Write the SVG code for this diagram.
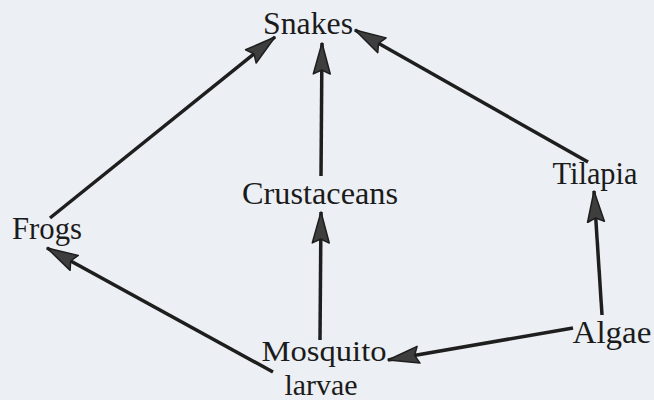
<svg xmlns="http://www.w3.org/2000/svg" width="654" height="400" viewBox="0 0 654 400">
<defs>
<style>
.lbl{font-family:"Liberation Serif","Times New Roman",serif;font-size:31px;fill:#1b1b1b;text-anchor:middle}
.sm{font-size:30px}
.edge{stroke:#1e1e1e;stroke-width:3.5;fill:none;marker-end:url(#ah)}
</style>
<marker id="ah" markerUnits="userSpaceOnUse" markerWidth="34" markerHeight="22" viewBox="0 0 34 22" refX="32" refY="11" orient="auto">
<path d="M1,2.5 L32,11 L1,19.5 L5,11 Z" fill="#3e3e3e" stroke="#1e1e1e" stroke-width="1.5" stroke-linejoin="round"/>
</marker>
</defs>
<rect width="654" height="400" fill="#eceff3"/>
<g id="connectors">
<line class="edge" x1="50" y1="218" x2="275" y2="37"/>
<line class="edge" x1="321" y1="176" x2="322" y2="43"/>
<line class="edge" x1="588" y1="162" x2="355" y2="30"/>
<line class="edge" x1="602" y1="315" x2="594" y2="191"/>
<line class="edge" x1="573" y1="328" x2="388" y2="360"/>
<line class="edge" x1="320" y1="340" x2="321" y2="212"/>
<line class="edge" x1="273" y1="372" x2="47" y2="248"/>
</g>
<g id="snakes"><text class="lbl" x="308" y="34" textLength="90" lengthAdjust="spacingAndGlyphs">Snakes</text></g>
<g id="crustaceans"><text class="lbl" x="320" y="204" textLength="156" lengthAdjust="spacingAndGlyphs">Crustaceans</text></g>
<g id="frogs"><text class="lbl" x="47" y="239" textLength="70" lengthAdjust="spacingAndGlyphs">Frogs</text></g>
<g id="tilapia"><text class="lbl" x="595" y="184" textLength="85" lengthAdjust="spacingAndGlyphs">Tilapia</text></g>
<g id="algae"><text class="lbl" x="612" y="343" textLength="79" lengthAdjust="spacingAndGlyphs">Algae</text></g>
<g id="mosquito"><text class="lbl sm" x="324" y="361" textLength="125" lengthAdjust="spacingAndGlyphs">Mosquito</text><text class="lbl sm" x="321" y="395" textLength="73" lengthAdjust="spacingAndGlyphs">larvae</text></g>
</svg>
